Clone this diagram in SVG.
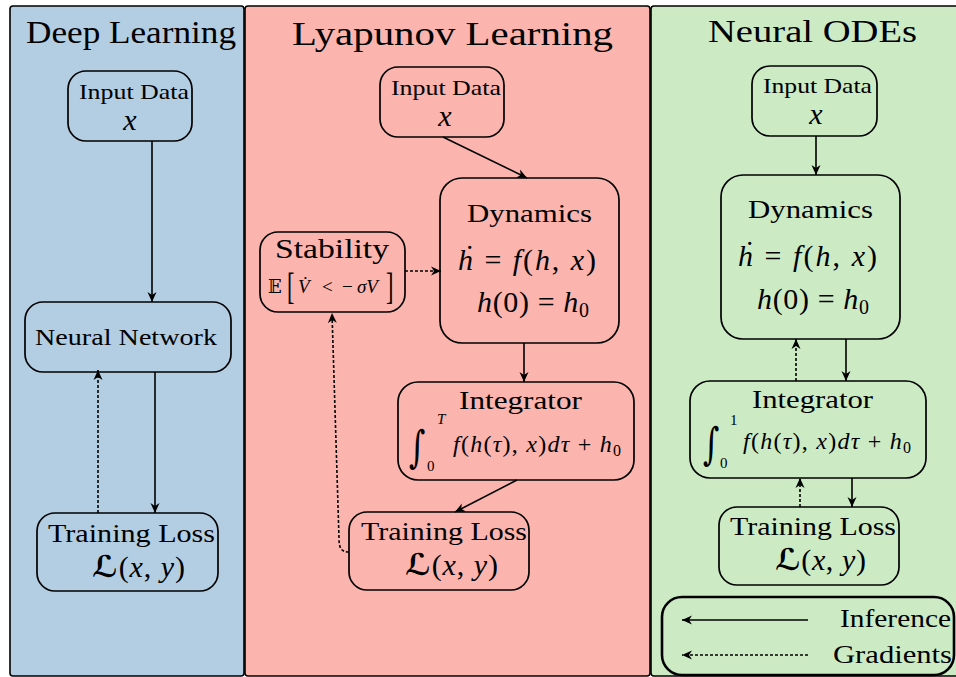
<svg xmlns="http://www.w3.org/2000/svg" width="956" height="677" viewBox="0 0 956 677">
  <style>
    .panel { stroke: #000; stroke-width: 1.6; }
    .box { fill: none; stroke: #000; stroke-width: 1.7; }
    .t { font-family: "Liberation Serif", "DejaVu Serif", serif; fill: #000; }
    .m { font-family: "Liberation Serif", "DejaVu Serif", serif; font-style: italic; }
    .n { font-style: normal; }
    .sym { font-family: "DejaVu Serif", "DejaVu Sans", serif; font-style: normal; }
    .edge { fill: none; stroke: #000; stroke-width: 1.6; marker-end: url(#head); }
    .dash { stroke-dasharray: 3 2; }
  </style>
  <defs>
    <marker id="head" viewBox="-11 -5 12 10" refX="0" refY="0" markerWidth="12" markerHeight="10" markerUnits="userSpaceOnUse" orient="auto">
      <path d="M0,0 L-10,-4.5 L-7,0 L-10,4.5 z" fill="#000"/>
    </marker>
  </defs>

  <!-- panel backgrounds -->
  <g id="panels">
    <rect class="panel" x="10" y="6" width="234" height="670" rx="3" fill="#b3cde3"/>
    <rect class="panel" x="245" y="6" width="405" height="670" rx="3" fill="#fbb4ae"/>
    <rect class="panel" x="651" y="6" width="310" height="670" rx="3" fill="#ccebc5"/>
    <text class="t" x="26" y="43" font-size="31" textLength="210" lengthAdjust="spacingAndGlyphs">Deep Learning</text>
    <text class="t" x="292" y="45" font-size="34" textLength="321" lengthAdjust="spacingAndGlyphs">Lyapunov Learning</text>
    <text class="t" x="708" y="42" font-size="31" textLength="209" lengthAdjust="spacingAndGlyphs">Neural ODEs</text>
  </g>

  <!-- Deep Learning column -->
  <g id="dl-input">
    <rect class="box" x="68" y="71" width="124" height="70" rx="18"/>
    <text class="t" x="79" y="99" font-size="21" textLength="110" lengthAdjust="spacingAndGlyphs">Input Data</text>
    <text class="t m" x="130" y="130" font-size="30" text-anchor="middle">x</text>
  </g>
  <g id="dl-network">
    <rect class="box" x="25" y="302" width="206" height="70" rx="18"/>
    <text class="t" x="35" y="345" font-size="23" textLength="182" lengthAdjust="spacingAndGlyphs">Neural Network</text>
  </g>
  <g id="dl-loss">
    <rect class="box" x="37" y="513" width="181" height="78" rx="18"/>
    <text class="t" x="48" y="542" font-size="26" textLength="167" lengthAdjust="spacingAndGlyphs">Training Loss</text>
    <text class="t m" x="92" y="577" font-size="30" textLength="93"><tspan class="sym" font-weight="bold">ℒ</tspan><tspan class="n">(</tspan>x<tspan class="n">, </tspan>y<tspan class="n">)</tspan></text>
  </g>

  <!-- Lyapunov Learning column -->
  <g id="ly-input">
    <rect class="box" x="380" y="67" width="124" height="70" rx="18"/>
    <text class="t" x="391" y="95" font-size="21" textLength="110" lengthAdjust="spacingAndGlyphs">Input Data</text>
    <text class="t m" x="445" y="126" font-size="30" text-anchor="middle">x</text>
  </g>
  <g id="ly-dynamics">
    <rect class="box" x="440" y="178" width="179" height="165" rx="22"/>
    <text class="t" x="467" y="222" font-size="26" textLength="125" lengthAdjust="spacingAndGlyphs">Dynamics</text>
    <text class="t m" x="458" y="270" font-size="30" textLength="138">ḣ<tspan class="n"> = </tspan>f<tspan class="n">(</tspan>h<tspan class="n">, </tspan>x<tspan class="n">)</tspan></text>
    <text class="t m" x="477" y="312" font-size="30" textLength="112">h<tspan class="n">(0) = </tspan>h<tspan class="n" font-size="20" dy="5">0</tspan></text>
  </g>
  <g id="ly-stability">
    <rect class="box" x="260" y="232" width="145" height="80" rx="18"/>
    <text class="t" x="275" y="258" font-size="28" textLength="114" lengthAdjust="spacingAndGlyphs">Stability</text>
    <!-- E[ V' < -sigma V ] with tall brackets -->
    <text class="t sym" x="268" y="293" font-size="18">𝔼</text>
    <text class="t" transform="translate(287,299) scale(0.8,1.35)" font-size="28">[</text>
    <text class="t m" x="298" y="293" font-size="19">V̇</text>
    <text class="t" x="322" y="293" font-size="19">&lt;</text>
    <text class="t" x="342" y="293" font-size="19">−</text>
    <text class="t m" x="357" y="293" font-size="19">σV</text>
    <text class="t" transform="translate(386,299) scale(0.8,1.35)" font-size="28">]</text>
  </g>
  <g id="ly-integrator">
    <rect class="box" x="398" y="382" width="236" height="98" rx="20"/>
    <text class="t" x="459" y="409" font-size="26" textLength="123" lengthAdjust="spacingAndGlyphs">Integrator</text>
    <text class="t sym" transform="translate(409,462) scale(0.72,1)" font-size="44">∫</text>
    <text class="t m" x="437" y="424" font-size="15">T</text>
    <text class="t" x="427" y="471" font-size="15">0</text>
    <text class="t m" x="453" y="452" font-size="24" textLength="168">f<tspan class="n">(</tspan>h<tspan class="n">(</tspan>τ<tspan class="n">), </tspan>x<tspan class="n">)</tspan>dτ<tspan class="n"> + </tspan>h<tspan class="n" font-size="16" dy="4">0</tspan></text>
  </g>
  <g id="ly-loss">
    <rect class="box" x="349" y="512" width="180" height="78" rx="18"/>
    <text class="t" x="361" y="540" font-size="26" textLength="166" lengthAdjust="spacingAndGlyphs">Training Loss</text>
    <text class="t m" x="405" y="575" font-size="30" textLength="93"><tspan class="sym" font-weight="bold">ℒ</tspan><tspan class="n">(</tspan>x<tspan class="n">, </tspan>y<tspan class="n">)</tspan></text>
  </g>

  <!-- Neural ODEs column -->
  <g id="ode-input">
    <rect class="box" x="752" y="66" width="125" height="70" rx="18"/>
    <text class="t" x="763" y="93" font-size="21" textLength="109" lengthAdjust="spacingAndGlyphs">Input Data</text>
    <text class="t m" x="816" y="124" font-size="30" text-anchor="middle">x</text>
  </g>
  <g id="ode-dynamics">
    <rect class="box" x="721" y="175" width="179" height="164" rx="22"/>
    <text class="t" x="748" y="218" font-size="26" textLength="125" lengthAdjust="spacingAndGlyphs">Dynamics</text>
    <text class="t m" x="738" y="266" font-size="30" textLength="139">ḣ<tspan class="n"> = </tspan>f<tspan class="n">(</tspan>h<tspan class="n">, </tspan>x<tspan class="n">)</tspan></text>
    <text class="t m" x="757" y="309" font-size="30" textLength="112">h<tspan class="n">(0) = </tspan>h<tspan class="n" font-size="20" dy="5">0</tspan></text>
  </g>
  <g id="ode-integrator">
    <rect class="box" x="690" y="381" width="236" height="97" rx="20"/>
    <text class="t" x="752" y="408" font-size="26" textLength="121" lengthAdjust="spacingAndGlyphs">Integrator</text>
    <text class="t sym" transform="translate(703,459) scale(0.72,1)" font-size="44">∫</text>
    <text class="t" x="730" y="425" font-size="15">1</text>
    <text class="t" x="720" y="468" font-size="15">0</text>
    <text class="t m" x="743" y="449" font-size="24" textLength="168">f<tspan class="n">(</tspan>h<tspan class="n">(</tspan>τ<tspan class="n">), </tspan>x<tspan class="n">)</tspan>dτ<tspan class="n"> + </tspan>h<tspan class="n" font-size="16" dy="4">0</tspan></text>
  </g>
  <g id="ode-loss">
    <rect class="box" x="719" y="507" width="180" height="78" rx="18"/>
    <text class="t" x="730" y="535" font-size="26" textLength="166" lengthAdjust="spacingAndGlyphs">Training Loss</text>
    <text class="t m" x="775" y="570" font-size="30" textLength="91"><tspan class="sym" font-weight="bold">ℒ</tspan><tspan class="n">(</tspan>x<tspan class="n">, </tspan>y<tspan class="n">)</tspan></text>
  </g>

  <!-- legend -->
  <g id="legend">
    <rect x="662" y="597" width="292" height="78" rx="20" fill="none" stroke="#000" stroke-width="2.6"/>
    <path class="edge" d="M808,620 L682,620"/>
    <path class="edge dash" d="M808,655 L682,655"/>
    <text class="t" x="840" y="627" font-size="25" textLength="111" lengthAdjust="spacingAndGlyphs">Inference</text>
    <text class="t" x="833" y="663" font-size="25" textLength="119" lengthAdjust="spacingAndGlyphs">Gradients</text>
  </g>

  <!-- connectors -->
  <g id="connectors">
    <path class="edge" d="M152,141 L152,302"/>
    <path class="edge" d="M155,372 L155,513"/>
    <path class="edge dash" d="M98,513 L98,370"/>

    <path class="edge" d="M443,137 L527,178"/>
    <path class="edge dash" d="M405,271 L441,271"/>
    <path class="edge" d="M524,343 L524,382"/>
    <path class="edge" d="M517,480 L455,512"/>
    <path class="edge dash" d="M349,552 C341,552 339,548 339,538 L332,313"/>

    <path class="edge" d="M816,136 L816,175"/>
    <path class="edge dash" d="M796,381 L796,339"/>
    <path class="edge" d="M846,339 L846,381"/>
    <path class="edge dash" d="M800,507 L800,478"/>
    <path class="edge" d="M852,478 L852,507"/>
  </g>
</svg>
